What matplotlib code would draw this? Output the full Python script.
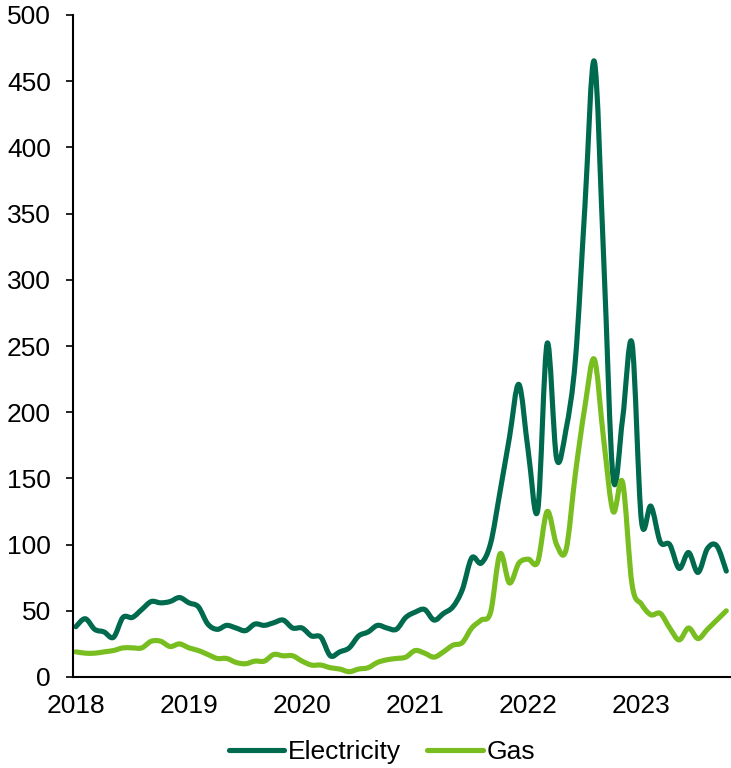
import matplotlib
matplotlib.use("Agg")
import matplotlib.pyplot as plt
from matplotlib.path import Path
from matplotlib.patches import PathPatch
from matplotlib.lines import Line2D
import numpy as np

plt.rcParams['font.family'] = ['Liberation Sans', 'DejaVu Sans']

years = ["2018", "2019", "2020", "2021", "2022", "2023"]

electricity = [38, 44, 36, 34, 30, 45, 45, 51, 57, 56, 57, 60, 56, 53, 40, 36, 39, 37, 35, 40,
               39, 41, 43, 37, 37, 31, 30, 16, 19, 22, 31, 34, 39, 37, 36, 45, 49, 51, 43, 48,
               53, 66, 90, 86, 101, 140, 181, 221, 170, 126, 252, 165, 187, 240, 355, 465, 315, 150, 195, 252,
               118, 129, 102, 100, 82, 94, 79, 97, 99, 80]

gas = [19, 18, 18, 19, 20, 22, 22, 22, 27, 27, 23, 25, 22, 20, 17, 14, 14, 11, 10, 12,
       12, 17, 16, 16, 12, 9, 9, 7, 6, 4, 6, 7, 11, 13, 14, 15, 20, 18, 15, 19,
       24, 26, 37, 43, 49, 93, 71, 86, 89, 87, 125, 100, 96, 154, 204, 240, 179, 125, 147, 70,
       55, 47, 48, 37, 28, 37, 29, 36, 43, 50]

months = np.arange(len(electricity))


def smooth_path(x, y):
    """Excel-style smoothed line: cubic Bezier segments through every data point."""
    x = np.asarray(x, float)
    y = np.asarray(y, float)
    n = len(x)
    verts = [(x[0], y[0])]
    codes = [Path.MOVETO]
    for i in range(n - 1):
        i0 = max(i - 1, 0)
        i3 = min(i + 2, n - 1)
        c1 = (x[i] + (x[i + 1] - x[i0]) / 6, y[i] + (y[i + 1] - y[i0]) / 6)
        c2 = (x[i + 1] - (x[i3] - x[i]) / 6, y[i + 1] - (y[i3] - y[i]) / 6)
        verts += [c1, c2, (x[i + 1], y[i + 1])]
        codes += [Path.CURVE4] * 3
    return Path(verts, codes)


W, H = 731, 768
fig = plt.figure(figsize=(W / 100, H / 100), dpi=100)
ax = fig.add_axes([73 / W, 1 - 677 / H, (W - 73) / W, (677 - 15) / H])

c_el = '#006A4E'
c_gas = '#78BE20'
lw = 3.7
for series, col in [(electricity, c_el), (gas, c_gas)]:
    ax.add_patch(PathPatch(smooth_path(months, series), fill=False, edgecolor=col, lw=lw,
                           joinstyle='round', capstyle='round'))

ax.set_xlim(-0.3, 69.5)
ax.set_ylim(0, 500)
ax.set_yticks(np.arange(0, 501, 50))
ax.set_xticks(np.arange(0, len(years) * 12, 12))
ax.set_xticklabels(years)

for s in ['top', 'right']:
    ax.spines[s].set_visible(False)
for s in ['left', 'bottom']:
    ax.spines[s].set_color('black')
    ax.spines[s].set_linewidth(1.5)

ax.tick_params(axis='y', length=5, width=1.2, pad=11, labelsize=19, colors='black')
ax.tick_params(axis='x', length=0, pad=12, labelsize=19, colors='black')

handles = [Line2D([], [], color=c_el, lw=lw, solid_capstyle='round'),
           Line2D([], [], color=c_gas, lw=lw, solid_capstyle='round')]
fig.legend(handles, ['Electricity', 'Gas'], loc='center', bbox_to_anchor=(382 / W, 1 - 752 / H),
           ncol=2, frameon=False, fontsize=19, handlelength=2.1, handletextpad=0.15,
           columnspacing=1.0, borderpad=0.0)

fig.savefig('out.png', dpi=100)
